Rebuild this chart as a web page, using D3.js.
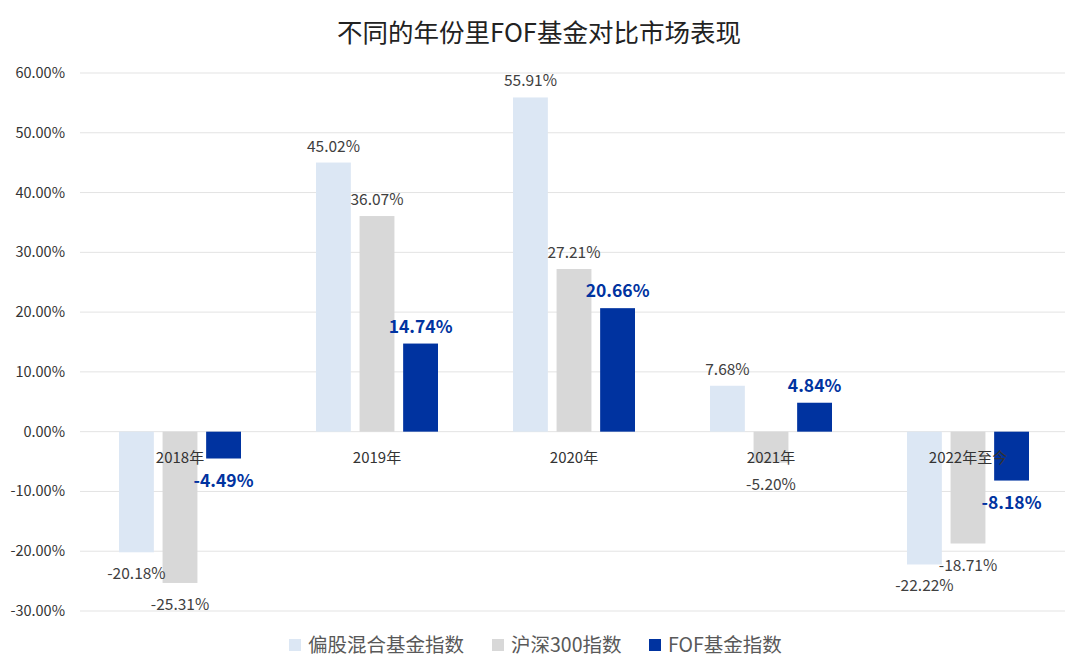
<!DOCTYPE html>
<html>
<head>
<meta charset="utf-8">
<script src="https://cdn.jsdelivr.net/npm/d3@7"></script>
<style>
  body { margin: 0; background: #fff; }
  text { font-family: "Noto Sans CJK SC", "Noto Sans", sans-serif; }
</style>
</head>
<body>
<div id="chart"></div>
<script>
var width = 1080,
    height = 672;

// data
var years = ["2018年", "2019年", "2020年", "2021年", "2022年至今"];
var seriesNames = ["偏股混合基金指数", "沪深300指数", "FOF基金指数"];
var mixedFund = [-20.18, 45.02, 55.91, 7.68, -22.22];
var hs300 = [-25.31, 36.07, 27.21, -5.20, -18.71];
var fofFund = [-4.49, 14.74, 20.66, 4.84, -8.18];
var yTicks = [-30, -20, -10, 0, 10, 20, 30, 40, 50, 60];

var colors = ["#DCE7F4", "#D8D8D8", "#0033A0"];
var seriesValues = [mixedFund, hs300, fofFund];

var margin = {top: 73, right: 15, bottom: 61, left: 80};

var svg = d3.select("#chart").append("svg").attr("width", width).attr("height", height);

// title
svg.append("text").attr("x", width / 2 - 1).attr("y", 42).attr("text-anchor", "middle")
    .style("font-size", "25.5px").style("fill", "#222").text("不同的年份里FOF基金对比市场表现");

var x = d3.scaleBand().domain(years).range([margin.left + 1.5, width - margin.right + 1.5]);
var x1 = d3.scaleBand().domain(d3.range(3)).range([0, 122]).paddingInner(0.2);
var y = d3.scaleLinear().domain([-30, 60]).range([height - margin.bottom, margin.top]);

// grid lines
svg.selectAll(".grid").data(yTicks).enter().append("line")
    .attr("x1", margin.left).attr("x2", width - margin.right)
    .attr("y1", d => y(d)).attr("y2", d => y(d))
    .attr("stroke", "#e3e3e3").attr("stroke-width", 1);

// y tick labels
svg.selectAll(".ylab").data(yTicks).enter().append("text")
    .attr("x", 65).attr("y", d => y(d) + 5).attr("text-anchor", "end")
    .style("font-size", "14.5px").style("fill", "#333")
    .text(d => d.toFixed(2) + "%");

// flatten into bar records
var bars = [];
years.forEach(function(yr, i) {
    seriesValues.forEach(function(vals, s) {
        bars.push({year: yr, s: s, v: vals[i]});
    });
});

var groupOffset = (x.bandwidth() - 122) / 2;

svg.selectAll(".bar").data(bars).enter().append("rect")
    .attr("x", d => x(d.year) + groupOffset + x1(d.s))
    .attr("width", x1.bandwidth())
    .attr("y", d => y(Math.max(0, d.v)))
    .attr("height", d => Math.abs(y(d.v) - y(0)))
    .attr("fill", d => colors[d.s]);

// category labels just below the zero line
svg.selectAll(".xlab").data(years).enter().append("text")
    .attr("x", d => x(d) + x.bandwidth() / 2).attr("y", y(0) + 31)
    .attr("text-anchor", "middle").style("font-size", "15px").style("fill", "#333")
    .text(d => d);

// value labels
svg.selectAll(".vlab").data(bars).enter().append("text")
    .attr("x", d => x(d.year) + groupOffset + x1(d.s) + x1.bandwidth() / 2)
    .attr("y", d => d.v >= 0 ? y(d.v) - 11 : y(d.v) + (d.s == 2 ? 28 : 27))
    .attr("text-anchor", "middle")
    .style("font-size", d => d.s == 2 ? "17.5px" : "15.5px")
    .style("font-weight", d => d.s == 2 ? "bold" : "normal")
    .style("fill", d => d.s == 2 ? "#0033A0" : "#404040")
    .text(d => d.v.toFixed(2) + "%");

// legend
var legendX = [289, 492, 649];
var legend = svg.selectAll(".legendItem").data(seriesNames).enter().append("g")
    .attr("transform", (d, i) => `translate(${legendX[i]}, 645)`);
legend.append("rect").attr("x", 0).attr("y", -6).attr("width", 12).attr("height", 12)
    .attr("fill", (d, i) => colors[i]);
legend.append("text").attr("x", 19).attr("y", 7).style("font-size", "19.5px").style("fill", "#595959")
    .text(d => d);
</script>
</body>
</html>
